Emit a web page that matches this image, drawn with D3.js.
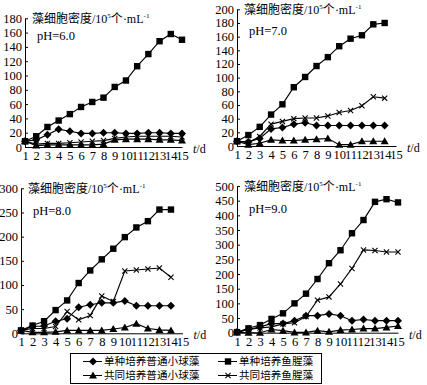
<!DOCTYPE html>
<meta charset="utf-8">
<style>
body { margin: 0; background: #fff; }
svg { font-family: "Liberation Serif", "Times New Roman", serif; }
.cn { font-family: "Noto Sans CJK SC", sans-serif; }
.axis path, .axis line { stroke: #000; stroke-width: 1; }
.axis text { font-size: 12.5px; fill: #000; font-family: "Liberation Serif", serif; }
</style>
<svg width="427" height="385"></svg>
<script src="https://d3js.org/d3.v7.min.js"></script>
<script>
// days on the x axis
var days = [1, 2, 3, 4, 5, 6, 7, 8, 9, 10, 11, 12, 13, 14, 15];
var phLabels = ["pH=6.0", "pH=7.0", "pH=8.0", "pH=9.0"];
var yTicks6 = [0, 20, 40, 60, 80, 100, 120, 140, 160, 180];
var yTicks7 = [0, 20, 40, 60, 80, 100, 120, 140, 160, 180, 200];
var yTicks8 = [0, 50, 100, 150, 200, 250, 300];
var yTicks9 = [0, 50, 100, 150, 200, 250, 300, 350, 400, 450, 500];
var seriesNames = ["单种培养普通小球藻", "单种培养鱼腥藻", "共同培养普通小球藻", "共同培养鱼腥藻"];

// pH 6.0
var p6Diamond  = [8, 10, 17, 25, 22, 19, 19, 20, 20, 19, 19, 20, 20, 19, 19];
var p6Square   = [8, 15, 28, 37, 46, 56, 63, 69, 84, 93, 113, 130, 148, 158, 150];
var p6Triangle = [8, 2, 3, 3, 3, 3, 3, 4, 10, 11, 11, 11, 10, 10, 9];
var p6Cross    = [8, 4, 5, 5, 6, 7, 8, 9, 12, 14, 15, 15, 15, 15, 14];
// pH 7.0 (no day 15)
var p7Diamond  = [7, 6, 11, 25, 27, 32, 34, 30, 30, 30, 30, 30, 30, 30];
var p7Square   = [7, 16, 28, 46, 61, 86, 101, 117, 130, 146, 157, 162, 178, 180];
var p7Triangle = [7, 2, 4, 9, 8, 8, 9, 10, 11, 2, 2, 7, 7, 7];
var p7Cross    = [7, 5, 14, 32, 36, 40, 41, 41, 44, 49, 52, 59, 72, 70];
// pH 8.0 (no day 15)
var p8Diamond  = [6, 14, 15, 25, 30, 54, 59, 63, 63, 67, 57, 57, 57, 57];
var p8Square   = [6, 16, 25, 48, 68, 104, 130, 153, 175, 199, 219, 232, 256, 256];
var p8Triangle = [6, 2, 2, 3, 6, 6, 6, 6, 9, 12, 20, 10, 7, 6];
var p8Cross    = [6, 10, 10, 14, 45, 28, 37, 77, 66, 129, 131, 133, 135, 116];
// pH 9.0
var p9Diamond  = [2, 11, 20, 31, 31, 41, 58, 58, 64, 58, 41, 45, 41, 41, 41];
var p9Square   = [2, 15, 26, 47, 66, 100, 133, 183, 237, 281, 339, 384, 446, 455, 444];
var p9Triangle = [1, 0, 0, 11, 7, 1, 1, 7, 3, 9, 11, 14, 14, 18, 23];
var p9Cross    = [2, 11, 16, 20, 30, 34, 55, 111, 122, 166, 219, 282, 280, 275, 275];

var panels = [
  {ph: phLabels[0], ticks: yTicks6, series: [p6Triangle, p6Cross, p6Diamond, p6Square]},
  {ph: phLabels[1], ticks: yTicks7, series: [p7Triangle, p7Cross, p7Diamond, p7Square]},
  {ph: phLabels[2], ticks: yTicks8, series: [p8Triangle, p8Cross, p8Diamond, p8Square]},
  {ph: phLabels[3], ticks: yTicks9, series: [p9Triangle, p9Cross, p9Diamond, p9Square]}
];
var markerOrder = ["triangle", "cross", "diamond", "square"];

// pixel frame of each panel
var frames = [
  {x0: 25, x1: 182, y0: 147, y1: 18.3, phY: 39.5},
  {x0: 237, x1: 396, y0: 146, y1: 9.3, phY: 35},
  {x0: 21, x1: 182.5, y0: 333.3, y1: 188.3, phY: 215},
  {x0: 237, x1: 398, y0: 332.7, y1: 186, phY: 213}
];

var svg = d3.select("svg");

// draw one marker shape centred on cx, cy
function marker(g, type, cx, cy) {
  if (type == "square") {
    g.append("rect").attr("x", cx - 3.2).attr("y", cy - 3.2)
      .attr("width", 6.4).attr("height", 6.4).attr("fill", "#000");
  } else if (type == "diamond") {
    g.append("polygon").attr("fill", "#000")
      .attr("points", [[cx, cy - 4], [cx + 4, cy], [cx, cy + 4], [cx - 4, cy]].join(" "));
  } else if (type == "triangle") {
    g.append("polygon").attr("fill", "#000")
      .attr("points", [[cx, cy - 4], [cx + 4, cy + 3], [cx - 4, cy + 3]].join(" "));
  } else {
    g.append("path").attr("stroke", "#000").attr("stroke-width", 1.1)
      .attr("d", "M" + (cx - 2.6) + "," + (cy - 2.6) + "L" + (cx + 2.6) + "," + (cy + 2.6) +
                 "M" + (cx - 2.6) + "," + (cy + 2.6) + "L" + (cx + 2.6) + "," + (cy - 2.6));
  }
}

panels.forEach(function(p, i) {
  var f = frames[i];
  var x = d3.scaleLinear().domain([1, 15]).range([f.x0, f.x1]);
  var y = d3.scaleLinear().domain([0, p.ticks[p.ticks.length - 1]]).range([f.y0, f.y1]);
  var g = svg.append("g");

  g.append("g").attr("class", "axis")
    .attr("transform", "translate(0," + f.y0 + ")")
    .call(d3.axisBottom(x).tickValues(days).tickSize(0).tickSizeOuter(0).tickPadding(4));

  g.append("g").attr("class", "axis")
    .attr("transform", "translate(" + f.x0 + ",0)")
    .call(d3.axisLeft(y).tickValues(p.ticks).tickSizeInner(-3).tickSizeOuter(0).tickPadding(3));

  var line = d3.line().x(function(d, j) { return x(days[j]); }).y(function(d) { return y(d); });

  p.series.forEach(function(s, k) {
    g.append("path").datum(s).attr("d", line)
      .attr("fill", "none").attr("stroke", "#000").attr("stroke-width", 1.15);
    s.forEach(function(v, j) { marker(g, markerOrder[k], x(days[j]), y(v)); });
  });

  // title with superscripts
  var t = g.append("text").attr("x", f.x0 + 7).attr("y", f.y1 + 4.5)
    .attr("font-size", 12);
  t.append("tspan").attr("class", "cn").text("藻细胞密度");
  t.append("tspan").text("/10");
  t.append("tspan").attr("font-size", 7).attr("dy", -5).text("5");
  t.append("tspan").attr("class", "cn").attr("dy", 5).text("个");
  t.append("tspan").text("·mL");
  t.append("tspan").attr("font-size", 7).attr("dy", -5).text("-1");

  g.append("text").attr("x", f.x0 + 12).attr("y", f.phY)
    .attr("font-size", 12.5).text(p.ph);

  var td = g.append("text").attr("x", f.x1 + 11).attr("y", f.y0 + 6).attr("font-size", 12);
  td.append("tspan").attr("font-style", "italic").text("t");
  td.append("tspan").text("/d");
});

// legend
var legend = svg.append("g");
legend.append("rect").attr("x", 70.5).attr("y", 353.5).attr("width", 251).attr("height", 30)
  .attr("fill", "none").attr("stroke", "#000").attr("stroke-width", 1);

var legendItems = [
  {name: seriesNames[0], type: "diamond", lx: 83, ly: 361.5},
  {name: seriesNames[1], type: "square", lx: 218, ly: 361.5},
  {name: seriesNames[2], type: "triangle", lx: 83, ly: 375.5},
  {name: seriesNames[3], type: "cross", lx: 218, ly: 375.5}
];
legendItems.forEach(function(it) {
  legend.append("line").attr("x1", it.lx).attr("x2", it.lx + 19)
    .attr("y1", it.ly).attr("y2", it.ly).attr("stroke", "#000").attr("stroke-width", 1);
  marker(legend, it.type, it.lx + 10, it.ly);
  legend.append("text").attr("class", "cn").attr("x", it.lx + 21).attr("y", it.ly + 3.8)
    .attr("font-size", 10.6).text(it.name);
});
</script>
